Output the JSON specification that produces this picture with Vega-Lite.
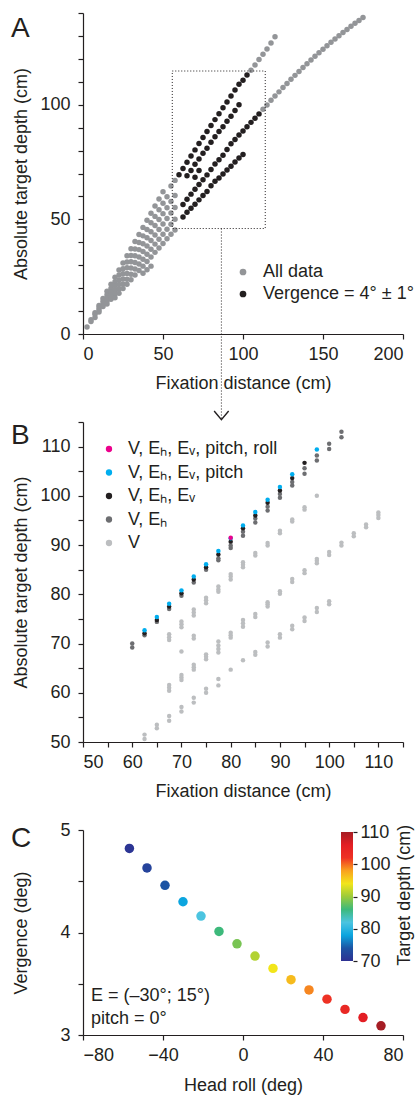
{
  "$schema": "https://vega.github.io/schema/vega-lite/v6.json",
  "padding": {"left": 10, "top": 12, "right": 2, "bottom": 2},
  "bounds": "flush",
  "spacing": 88,
  "config": {
    "font": "Liberation Sans",
    "view": {"stroke": null},
    "axis": {"grid": false, "domainColor": "#231f20", "tickColor": "#231f20", "labelColor": "#231f20", "titleColor": "#231f20", "labelFontSize": 18, "titleFontSize": 18, "titleFontWeight": "normal", "tickSize": 5, "domainWidth": 1.2, "tickWidth": 1.2},
    "legend": {"labelFontSize": 18, "labelColor": "#231f20", "titleFontWeight": "normal", "titleFontSize": 18, "padding": 0, "offset": 0},
    "text": {"color": "#231f20"}
  },
  "datasets": {
    "a": [
      {"x":2.5,"y":3.1,"g":"a"},{"x":5,"y":6.2,"g":"a"},{"x":7.5,"y":9.3,"g":"a"},{"x":10,"y":12.4,"g":"a"},{"x":12.5,"y":15.5,"g":"a"},{"x":15,"y":18.6,"g":"a"},{"x":17.5,"y":21.7,"g":"a"},{"x":20,"y":24.8,"g":"a"},{"x":22.5,"y":27.9,"g":"a"},{"x":25,"y":31,"g":"a"},{"x":27.5,"y":34.1,"g":"a"},{"x":30,"y":37.2,"g":"a"},{"x":32.5,"y":40.3,"g":"a"},{"x":35,"y":43.4,"g":"a"},{"x":37.5,"y":46.5,"g":"a"},{"x":40,"y":49.6,"g":"a"},{"x":42.5,"y":52.7,"g":"a"},{"x":45,"y":55.8,"g":"a"},{"x":47.5,"y":58.9,"g":"a"},{"x":50,"y":62,"g":"a"},
      {"x":5,"y":5.4,"g":"a"},{"x":7.5,"y":8.6,"g":"a"},{"x":10,"y":11.4,"g":"a"},{"x":12.5,"y":14.3,"g":"a"},{"x":15,"y":17.1,"g":"a"},{"x":17.5,"y":20,"g":"a"},{"x":20,"y":22.8,"g":"a"},{"x":22.5,"y":25.7,"g":"a"},{"x":25,"y":28.5,"g":"a"},{"x":27.5,"y":31.4,"g":"a"},{"x":30,"y":34.2,"g":"a"},{"x":32.5,"y":37.1,"g":"a"},{"x":35,"y":39.9,"g":"a"},{"x":37.5,"y":42.8,"g":"a"},{"x":40,"y":45.6,"g":"a"},{"x":42.5,"y":48.5,"g":"a"},{"x":45,"y":51.3,"g":"a"},{"x":47.5,"y":54.2,"g":"a"},{"x":50,"y":57,"g":"a"},{"x":52.5,"y":59.9,"g":"a"},
      {"x":10,"y":10.5,"g":"a"},{"x":12.5,"y":13.1,"g":"a"},{"x":15,"y":15.8,"g":"a"},{"x":17.5,"y":18.4,"g":"a"},{"x":20,"y":21,"g":"a"},{"x":22.5,"y":23.6,"g":"a"},{"x":25,"y":26.3,"g":"a"},{"x":27.5,"y":28.9,"g":"a"},{"x":30,"y":31.5,"g":"a"},{"x":32.5,"y":34.1,"g":"a"},{"x":35,"y":36.8,"g":"a"},{"x":37.5,"y":39.4,"g":"a"},{"x":40,"y":42,"g":"a"},{"x":42.5,"y":44.6,"g":"a"},{"x":45,"y":47.3,"g":"a"},{"x":47.5,"y":49.9,"g":"a"},{"x":50,"y":52.5,"g":"a"},{"x":52.5,"y":55.1,"g":"a"},{"x":55,"y":57.8,"g":"a"},{"x":57.5,"y":60.4,"g":"a"},
      {"x":7.5,"y":7.2,"g":"a"},{"x":10,"y":9.6,"g":"a"},{"x":12.5,"y":12,"g":"a"},{"x":15,"y":14.4,"g":"a"},{"x":17.5,"y":16.8,"g":"a"},{"x":20,"y":19.2,"g":"a"},{"x":22.5,"y":21.6,"g":"a"},{"x":25,"y":24,"g":"a"},{"x":27.5,"y":26.4,"g":"a"},{"x":30,"y":28.8,"g":"a"},{"x":32.5,"y":31.2,"g":"a"},{"x":35,"y":33.6,"g":"a"},{"x":37.5,"y":36,"g":"a"},{"x":40,"y":38.4,"g":"a"},{"x":42.5,"y":40.8,"g":"a"},{"x":45,"y":43.2,"g":"a"},{"x":47.5,"y":45.6,"g":"a"},{"x":50,"y":48,"g":"a"},{"x":52.5,"y":50.4,"g":"a"},{"x":55,"y":52.8,"g":"a"},{"x":57.5,"y":55.2,"g":"a"},
      {"x":15,"y":13.1,"g":"a"},{"x":17.5,"y":15.2,"g":"a"},{"x":20,"y":17.4,"g":"a"},{"x":22.5,"y":19.6,"g":"a"},{"x":25,"y":21.8,"g":"a"},{"x":27.5,"y":23.9,"g":"a"},{"x":30,"y":26.1,"g":"a"},{"x":32.5,"y":28.3,"g":"a"},{"x":35,"y":30.5,"g":"a"},{"x":37.5,"y":32.6,"g":"a"},{"x":40,"y":34.8,"g":"a"},{"x":42.5,"y":37,"g":"a"},{"x":45,"y":39.2,"g":"a"},{"x":47.5,"y":41.3,"g":"a"},{"x":50,"y":43.5,"g":"a"},{"x":52.5,"y":45.7,"g":"a"},{"x":55,"y":47.9,"g":"a"},{"x":57.5,"y":50,"g":"a"},
      {"x":20,"y":15.8,"g":"a"},{"x":22.5,"y":17.8,"g":"a"},{"x":25,"y":19.8,"g":"a"},{"x":27.5,"y":21.7,"g":"a"},{"x":30,"y":23.7,"g":"a"},{"x":32.5,"y":25.7,"g":"a"},{"x":35,"y":27.7,"g":"a"},{"x":37.5,"y":29.6,"g":"a"},{"x":40,"y":31.6,"g":"a"},{"x":42.5,"y":33.6,"g":"a"},{"x":45,"y":35.6,"g":"a"},{"x":47.5,"y":37.5,"g":"a"},{"x":50,"y":39.5,"g":"a"},{"x":52.5,"y":41.5,"g":"a"},{"x":55,"y":43.5,"g":"a"},{"x":57.5,"y":45.4,"g":"a"},
      {"x":37.5,"y":26.5,"g":"a"},{"x":40,"y":28,"g":"a"},{"x":42.5,"y":29.6,"g":"a"},{"x":55,"y":64.5,"g":"a"},{"x":57.5,"y":67,"g":"a"},
      {"x":105,"y":115,"g":"a"},{"x":107.5,"y":117.3,"g":"a"},{"x":110,"y":119.7,"g":"a"},{"x":112.5,"y":122,"g":"a"},{"x":115,"y":124.3,"g":"a"},{"x":117.5,"y":126.9,"g":"a"},{"x":120,"y":129.6,"g":"a"},
      {"x":112.5,"y":98,"g":"a"},{"x":115,"y":99.9,"g":"a"},{"x":117.5,"y":101.9,"g":"a"},{"x":120,"y":103.8,"g":"a"},{"x":122.5,"y":105.6,"g":"a"},{"x":125,"y":107.5,"g":"a"},{"x":127.5,"y":109.3,"g":"a"},{"x":130,"y":111.1,"g":"a"},{"x":132.5,"y":112.8,"g":"a"},{"x":135,"y":114.5,"g":"a"},{"x":137.5,"y":116.2,"g":"a"},{"x":140,"y":117.9,"g":"a"},{"x":142.5,"y":119.5,"g":"a"},{"x":145,"y":121.1,"g":"a"},{"x":147.5,"y":122.7,"g":"a"},{"x":150,"y":124.2,"g":"a"},{"x":152.5,"y":125.7,"g":"a"},{"x":155,"y":127.2,"g":"a"},{"x":157.5,"y":128.7,"g":"a"},{"x":160,"y":130.1,"g":"a"},{"x":162.5,"y":131.5,"g":"a"},{"x":165,"y":132.8,"g":"a"},{"x":167.5,"y":134.2,"g":"a"},{"x":170,"y":135.5,"g":"a"},{"x":172.5,"y":136.7,"g":"a"},{"x":175,"y":138,"g":"a"},
      {"x":60,"y":69.5,"g":"v"},{"x":62.5,"y":72.2,"g":"v"},{"x":65,"y":74.9,"g":"v"},{"x":67.5,"y":77.6,"g":"v"},{"x":70,"y":80.3,"g":"v"},{"x":72.5,"y":83.1,"g":"v"},{"x":75,"y":85.7,"g":"v"},{"x":77.5,"y":88.3,"g":"v"},{"x":80,"y":90.9,"g":"v"},{"x":82.5,"y":93.5,"g":"v"},{"x":85,"y":96.1,"g":"v"},{"x":87.5,"y":98.7,"g":"v"},{"x":90,"y":101.2,"g":"v"},{"x":92.5,"y":103.8,"g":"v"},{"x":95,"y":106.4,"g":"v"},{"x":97.5,"y":108.9,"g":"v"},{"x":100,"y":110.7,"g":"v"},{"x":102.5,"y":113,"g":"v"},
      {"x":65,"y":69,"g":"v"},{"x":67.5,"y":71.3,"g":"v"},{"x":70,"y":74,"g":"v"},{"x":72.5,"y":76.3,"g":"v"},{"x":75,"y":78.8,"g":"v"},{"x":77.5,"y":81,"g":"v"},{"x":80,"y":83.6,"g":"v"},{"x":82.5,"y":86,"g":"v"},{"x":85,"y":88.3,"g":"v"},{"x":87.5,"y":90.4,"g":"v"},{"x":90,"y":92.8,"g":"v"},{"x":92.5,"y":95,"g":"v"},{"x":95,"y":97.5,"g":"v"},{"x":97.5,"y":100,"g":"v"},
      {"x":62.5,"y":56.5,"g":"v"},{"x":65,"y":58.8,"g":"v"},{"x":67.5,"y":61,"g":"v"},{"x":70,"y":63.1,"g":"v"},{"x":72.5,"y":65.2,"g":"v"},{"x":75,"y":67.3,"g":"v"},{"x":77.5,"y":69.4,"g":"v"},{"x":80,"y":71.7,"g":"v"},{"x":82.5,"y":74.1,"g":"v"},{"x":85,"y":76,"g":"v"},{"x":87.5,"y":78,"g":"v"},{"x":90,"y":80.5,"g":"v"},{"x":92.5,"y":83,"g":"v"},{"x":95,"y":84.8,"g":"v"},{"x":97.5,"y":86.8,"g":"v"},{"x":100,"y":88.5,"g":"v"},{"x":102.5,"y":90.4,"g":"v"},{"x":105,"y":92.3,"g":"v"},{"x":107.5,"y":94.1,"g":"v"},{"x":110,"y":96,"g":"v"},
      {"x":62.5,"y":51,"g":"v"},{"x":65,"y":53.1,"g":"v"},{"x":67.5,"y":54.8,"g":"v"},{"x":70,"y":56.6,"g":"v"},{"x":72.5,"y":58.5,"g":"v"},{"x":75,"y":60.4,"g":"v"},{"x":77.5,"y":62.1,"g":"v"},{"x":80,"y":64.7,"g":"v"},{"x":82.5,"y":66.6,"g":"v"},{"x":85,"y":68,"g":"v"},{"x":87.5,"y":69.8,"g":"v"},{"x":90,"y":71.5,"g":"v"},{"x":92.5,"y":73.2,"g":"v"},{"x":95,"y":75,"g":"v"},{"x":97.5,"y":76.8,"g":"v"},{"x":100,"y":78.3,"g":"v"},
      {"x":70,"y":68.4,"g":"v"},{"x":72.5,"y":71.3,"g":"v"}
    ],
    "b": [
      {"x":67.5,"y":70.7,"s":"v"},{"x":67.5,"y":71.3,"s":"v"},{"x":67.5,"y":71.9,"s":"v"},{"x":70,"y":73.3,"s":"v"},{"x":70,"y":73.9,"s":"v"},{"x":70,"y":74.5,"s":"v"},{"x":72.5,"y":75.7,"s":"v"},{"x":72.5,"y":76.3,"s":"v"},{"x":72.5,"y":76.9,"s":"v"},{"x":75,"y":78.2,"s":"v"},{"x":75,"y":78.8,"s":"v"},{"x":75,"y":79.3,"s":"v"},{"x":77.5,"y":80.5,"s":"v"},{"x":77.5,"y":81,"s":"v"},{"x":77.5,"y":81.6,"s":"v"},{"x":80,"y":83,"s":"v"},{"x":80,"y":83.6,"s":"v"},{"x":80,"y":84.1,"s":"v"},{"x":82.5,"y":85.5,"s":"v"},{"x":82.5,"y":86,"s":"v"},{"x":82.5,"y":86.5,"s":"v"},{"x":85,"y":87.9,"s":"v"},{"x":85,"y":88.4,"s":"v"},{"x":87.5,"y":89.9,"s":"v"},{"x":87.5,"y":90.4,"s":"v"},{"x":90,"y":92.4,"s":"v"},{"x":90,"y":92.9,"s":"v"},{"x":92.5,"y":94.8,"s":"v"},{"x":92.5,"y":95.2,"s":"v"},{"x":95,"y":97.2,"s":"v"},{"x":95,"y":97.7,"s":"v"},{"x":97.5,"y":100,"s":"v"},
      {"x":70,"y":68.4,"s":"v"},{"x":72.5,"y":71,"s":"v"},{"x":72.5,"y":71.6,"s":"v"},
      {"x":67.5,"y":60.4,"s":"v"},{"x":67.5,"y":61,"s":"v"},{"x":67.5,"y":61.6,"s":"v"},{"x":70,"y":62.6,"s":"v"},{"x":70,"y":63.1,"s":"v"},{"x":70,"y":63.6,"s":"v"},{"x":72.5,"y":64.7,"s":"v"},{"x":72.5,"y":65.2,"s":"v"},{"x":72.5,"y":65.7,"s":"v"},{"x":75,"y":66.8,"s":"v"},{"x":75,"y":67.3,"s":"v"},{"x":75,"y":67.8,"s":"v"},{"x":77.5,"y":68.2,"s":"v"},{"x":77.5,"y":68.9,"s":"v"},{"x":77.5,"y":69.6,"s":"v"},{"x":77.5,"y":70.4,"s":"v"},{"x":80,"y":71.2,"s":"v"},{"x":80,"y":71.7,"s":"v"},{"x":80,"y":72.2,"s":"v"},{"x":82.5,"y":73.4,"s":"v"},{"x":82.5,"y":74.1,"s":"v"},{"x":82.5,"y":74.8,"s":"v"},{"x":85,"y":75.4,"s":"v"},{"x":85,"y":76,"s":"v"},{"x":87.5,"y":77.5,"s":"v"},{"x":87.5,"y":78,"s":"v"},{"x":87.5,"y":78.4,"s":"v"},{"x":90,"y":80.1,"s":"v"},{"x":90,"y":80.6,"s":"v"},{"x":92.5,"y":82.5,"s":"v"},{"x":92.5,"y":83.1,"s":"v"},{"x":95,"y":84.3,"s":"v"},{"x":95,"y":84.9,"s":"v"},{"x":97.5,"y":86.3,"s":"v"},{"x":97.5,"y":86.8,"s":"v"},{"x":97.5,"y":87.2,"s":"v"},{"x":100,"y":88,"s":"v"},{"x":100,"y":88.6,"s":"v"},{"x":102.5,"y":89.9,"s":"v"},{"x":102.5,"y":90.5,"s":"v"},{"x":105,"y":91.8,"s":"v"},{"x":105,"y":92.4,"s":"v"},{"x":107.5,"y":93.6,"s":"v"},{"x":107.5,"y":94.2,"s":"v"},{"x":110,"y":95.5,"s":"v"},{"x":110,"y":96.1,"s":"v"},{"x":110,"y":96.6,"s":"v"},
      {"x":62.5,"y":50.6,"s":"v"},{"x":62.5,"y":51.5,"s":"v"},{"x":65,"y":52.8,"s":"v"},{"x":65,"y":53.5,"s":"v"},{"x":67.5,"y":54.3,"s":"v"},{"x":67.5,"y":55.3,"s":"v"},{"x":70,"y":56.2,"s":"v"},{"x":70,"y":57.1,"s":"v"},{"x":72.5,"y":58,"s":"v"},{"x":72.5,"y":59,"s":"v"},{"x":75,"y":60,"s":"v"},{"x":75,"y":60.8,"s":"v"},{"x":77.5,"y":61.5,"s":"v"},{"x":77.5,"y":62.8,"s":"v"},{"x":80,"y":64.7,"s":"v"},{"x":82.5,"y":66.6,"s":"v"},{"x":85,"y":67.7,"s":"v"},{"x":85,"y":68.3,"s":"v"},{"x":87.5,"y":69.4,"s":"v"},{"x":87.5,"y":70.2,"s":"v"},{"x":90,"y":71.2,"s":"v"},{"x":90,"y":71.9,"s":"v"},{"x":92.5,"y":72.9,"s":"v"},{"x":92.5,"y":73.6,"s":"v"},{"x":95,"y":74.6,"s":"v"},{"x":95,"y":75.3,"s":"v"},{"x":97.5,"y":76.4,"s":"v"},{"x":97.5,"y":77.2,"s":"v"},{"x":100,"y":78,"s":"v"},{"x":100,"y":78.6,"s":"v"},
      {"x":60,"y":69.2,"s":"h"},{"x":60,"y":70,"s":"h"},{"x":62.5,"y":71.7,"s":"h"},{"x":65,"y":74.4,"s":"h"},{"x":67.5,"y":77,"s":"h"},{"x":70,"y":79.7,"s":"h"},{"x":72.5,"y":82.4,"s":"h"},{"x":75,"y":85,"s":"h"},{"x":77.5,"y":86.9,"s":"h"},{"x":77.5,"y":87.3,"s":"h"},{"x":80,"y":89.4,"s":"h"},{"x":80,"y":89.9,"s":"h"},{"x":82.5,"y":91.9,"s":"h"},{"x":82.5,"y":92.7,"s":"h"},{"x":85,"y":94.6,"s":"h"},{"x":85,"y":95.4,"s":"h"},{"x":87.5,"y":97,"s":"h"},{"x":87.5,"y":97.8,"s":"h"},{"x":90,"y":99.6,"s":"h"},{"x":90,"y":100.4,"s":"h"},{"x":92.5,"y":102.1,"s":"h"},{"x":92.5,"y":102.8,"s":"h"},{"x":95,"y":104.5,"s":"h"},{"x":95,"y":105.6,"s":"h"},{"x":97.5,"y":107.2,"s":"h"},{"x":97.5,"y":108.2,"s":"h"},{"x":100,"y":109.5,"s":"h"},{"x":100,"y":110.6,"s":"h"},{"x":102.5,"y":111.9,"s":"h"},{"x":102.5,"y":113,"s":"h"},
      {"x":62.5,"y":72.1,"s":"e"},{"x":65,"y":74.8,"s":"e"},{"x":67.5,"y":77.5,"s":"e"},{"x":70,"y":80.2,"s":"e"},{"x":72.5,"y":83,"s":"e"},{"x":75,"y":85.5,"s":"e"},{"x":77.5,"y":88.1,"s":"e"},{"x":80,"y":90.7,"s":"e"},{"x":82.5,"y":93.4,"s":"e"},{"x":85,"y":96,"s":"e"},{"x":87.5,"y":98.6,"s":"e"},{"x":90,"y":101.1,"s":"e"},{"x":92.5,"y":103.6,"s":"e"},{"x":95,"y":106.7,"s":"e"},
      {"x":62.5,"y":72.7,"s":"p"},{"x":65,"y":75.4,"s":"p"},{"x":67.5,"y":78.1,"s":"p"},{"x":70,"y":80.8,"s":"p"},{"x":72.5,"y":83.6,"s":"p"},{"x":75,"y":86.1,"s":"p"},{"x":77.5,"y":88.8,"s":"p"},{"x":80,"y":91.4,"s":"p"},{"x":82.5,"y":94,"s":"p"},{"x":85,"y":96.7,"s":"p"},{"x":87.5,"y":99.2,"s":"p"},{"x":90,"y":101.8,"s":"p"},{"x":92.5,"y":104.4,"s":"p"},{"x":97.5,"y":109.4,"s":"p"},
      {"x":80,"y":91.5,"s":"r"}
    ],
    "c": [
      {"x":-56.8,"y":4.82,"d":70.5},{"x":-48,"y":4.63,"d":72},{"x":-39,"y":4.46,"d":74},{"x":-30,"y":4.3,"d":78},{"x":-21,"y":4.16,"d":82},{"x":-12,"y":4.01,"d":86},{"x":-3,"y":3.89,"d":88.5},{"x":6,"y":3.77,"d":91},{"x":15,"y":3.65,"d":94},{"x":24,"y":3.54,"d":96.5},{"x":33,"y":3.44,"d":99},{"x":42,"y":3.35,"d":102},{"x":51,"y":3.25,"d":104},{"x":60,"y":3.17,"d":106},{"x":69,"y":3.09,"d":110}
    ]
  },
  "vconcat": [
    {
      "width": 320, "height": 321,
      "encoding": {
        "x": {"field": "x", "type": "quantitative", "scale": {"domain": [0, 200], "nice": false, "zero": false}, "axis": {"values": [0, 50, 100, 150, 200], "title": "Fixation distance (cm)", "titleY": 54, "titleBaseline": "alphabetic", "labelPadding": 6}},
        "y": {"field": "y", "type": "quantitative", "scale": {"domain": [0, 140], "nice": false, "zero": false}, "axis": {"values": [0, 10, 20, 30, 40, 50, 60, 70, 80, 90, 100, 110, 120, 130, 140], "labelExpr": "datum.value % 50 === 0 ? datum.label : ''", "title": "Absolute target depth (cm)", "titleX": -57, "titleBaseline": "alphabetic", "labelPadding": 8}}
      },
      "layer": [
        {"data": {"name": "a"}, "mark": {"type": "point", "filled": true, "opacity": 1, "size": 30},
         "encoding": {"color": {"field": "g", "type": "nominal", "scale": {"domain": ["a", "v"], "range": ["#939598", "#231f20"]},
           "legend": {"orient": "none", "legendX": 151, "legendY": 250, "title": null, "symbolSize": 45, "symbolType": "circle", "labelOffset": 11, "rowPadding": 4, "labelExpr": "datum.value === 'a' ? 'All data' : 'Vergence = 4° ± 1°'"}}}},
        {"data": {"values": [{"x": 55.8, "x2": 113.9, "y": 46, "y2": 114.7}]}, "mark": {"type": "rect", "filled": false, "color": "#231f20", "strokeWidth": 1, "strokeDash": [1, 2]},
         "encoding": {"x2": {"field": "x2"}, "y2": {"field": "y2"}}},
        {"data": {"values": [{"x": 86.5, "y": 46, "y2": -37}]}, "mark": {"type": "rule", "color": "#231f20", "strokeWidth": 1, "strokeDash": [1, 2]},
         "encoding": {"y2": {"field": "y2"}}},
        {"data": {"values": [{"x": 86.5, "y": -37.4}]}, "mark": {"type": "point", "shape": "M-1,-1.2L0,0L1,-1.2", "filled": false, "color": "#231f20", "strokeWidth": 1.4, "size": 210, "opacity": 1}},
        {"data": {"values": [{"x": -45, "y": 129.6, "t": "A"}]}, "mark": {"type": "text", "fontSize": 28, "align": "left", "baseline": "alphabetic"},
         "encoding": {"text": {"field": "t"}}}
      ]
    },
    {
      "width": 320, "height": 320,
      "encoding": {
        "x": {"field": "x", "type": "quantitative", "scale": {"domain": [50, 115], "nice": false, "zero": false}, "axis": {"values": [50, 55, 60, 65, 70, 75, 80, 85, 90, 95, 100, 105, 110, 115], "labelExpr": "datum.value % 10 === 0 ? datum.label : ''", "title": "Fixation distance (cm)", "titleY": 54, "titleBaseline": "alphabetic", "labelPadding": 6}},
        "y": {"field": "y", "type": "quantitative", "scale": {"domain": [50, 115], "nice": false, "zero": false}, "axis": {"values": [50, 55, 60, 65, 70, 75, 80, 85, 90, 95, 100, 105, 110, 115], "labelExpr": "datum.value % 10 === 0 ? datum.label : ''", "title": "Absolute target depth (cm)", "titleX": -57, "titleBaseline": "alphabetic", "labelPadding": 8}}
      },
      "layer": [
        {"data": {"name": "b"}, "mark": {"type": "point", "filled": true, "opacity": 1, "size": 20},
         "encoding": {"color": {"field": "s", "type": "nominal", "scale": {"domain": ["r", "p", "e", "h", "v"], "range": ["#ec008c", "#00aeef", "#231f20", "#6d6e71", "#bcbec0"]},
           "legend": {"orient": "none", "legendX": 17, "legendY": 18, "title": null, "symbolSize": 40, "symbolType": "circle", "labelOffset": 10, "rowPadding": 5.5,
             "labelExpr": "datum.value === 'r' ? 'V, Eₕ, Eᵥ, pitch, roll' : datum.value === 'p' ? 'V, Eₕ, Eᵥ, pitch' : datum.value === 'e' ? 'V, Eₕ, Eᵥ' : datum.value === 'h' ? 'V, Eₕ' : 'V'"}}}},
        {"data": {"values": [{"x": 35.37, "y": 110.47, "t": "B"}]}, "mark": {"type": "text", "fontSize": 28, "align": "left", "baseline": "alphabetic"},
         "encoding": {"text": {"field": "t"}}}
      ]
    },
    {
      "width": 320, "height": 205,
      "resolve": {"scale": {"y": "independent"}, "axis": {"y": "independent"}},
      "layer": [
        {
          "encoding": {
            "x": {"field": "x", "type": "quantitative", "scale": {"domain": [-80, 80], "nice": false, "zero": false}, "axis": {"values": [-80, -60, -40, -20, 0, 20, 40, 60, 80], "labelExpr": "datum.value % 40 === 0 ? datum.label : ''", "title": "Head roll (deg)", "titleY": 55, "titleBaseline": "alphabetic", "labelPadding": 6}},
            "y": {"field": "y", "type": "quantitative", "scale": {"domain": [3, 5], "nice": false, "zero": false}, "axis": {"values": [3, 3.5, 4, 4.5, 5], "labelExpr": "datum.value % 1 === 0 ? format(datum.value, 'd') : ''", "title": "Vergence (deg)", "titleX": -57, "titleBaseline": "alphabetic", "labelPadding": 8}}
          },
          "layer": [
            {"data": {"name": "c"}, "mark": {"type": "point", "filled": true, "opacity": 1, "size": 90},
             "encoding": {"color": {"field": "d", "type": "quantitative",
               "scale": {"domain": [70, 74, 78, 82, 86, 90, 94, 98, 102, 106, 110], "range": ["#2e3192", "#1c54a4", "#0ba5df", "#4cc4e0", "#3db97b", "#9ccb3b", "#f2e51a", "#f9a21e", "#ee3124", "#e31e24", "#a51d24"], "interpolate": "rgb"},
               "legend": {"orient": "none", "legendX": 258, "legendY": 2, "direction": "vertical", "gradientLength": 129, "gradientThickness": 12, "values": [70, 80, 90, 100, 110], "title": null, "labelExpr": "''", "labelFontSize": 1, "gradientStrokeWidth": 0}}}},
            {"data": {"values": [{"x": -76, "y": 3.33, "t": "E = (–30°; 15°)"}, {"x": -76, "y": 3.105, "t": "pitch = 0°"}]}, "mark": {"type": "text", "fontSize": 18, "align": "left", "baseline": "alphabetic"},
             "encoding": {"text": {"field": "t"}}},
            {"data": {"values": [{"x": 83.5, "y": 4.364, "t": "Target depth (cm)"}]}, "mark": {"type": "text", "fontSize": 18, "align": "center", "baseline": "alphabetic", "angle": 270},
             "encoding": {"text": {"field": "t"}}},
            {"data": {"values": [{"x": -116, "y": 4.83, "t": "C"}]}, "mark": {"type": "text", "fontSize": 28, "align": "left", "baseline": "alphabetic"},
             "encoding": {"text": {"field": "t"}}}
          ]
        },
        {
          "data": {"values": [{"d": 70}, {"d": 110}]},
          "mark": {"type": "point", "opacity": 0},
          "encoding": {
            "x": {"datum": 0, "type": "quantitative"},
            "y": {"field": "d", "type": "quantitative", "scale": {"domain": [70, 110], "range": [131, 2], "nice": false, "zero": false},
              "axis": {"orient": "right", "offset": -50, "values": [70, 80, 90, 100, 110], "title": null, "domain": false, "tickSize": 4, "labelPadding": 3, "tickWidth": 1.2}}
          }
        }
      ]
    }
  ]
}
